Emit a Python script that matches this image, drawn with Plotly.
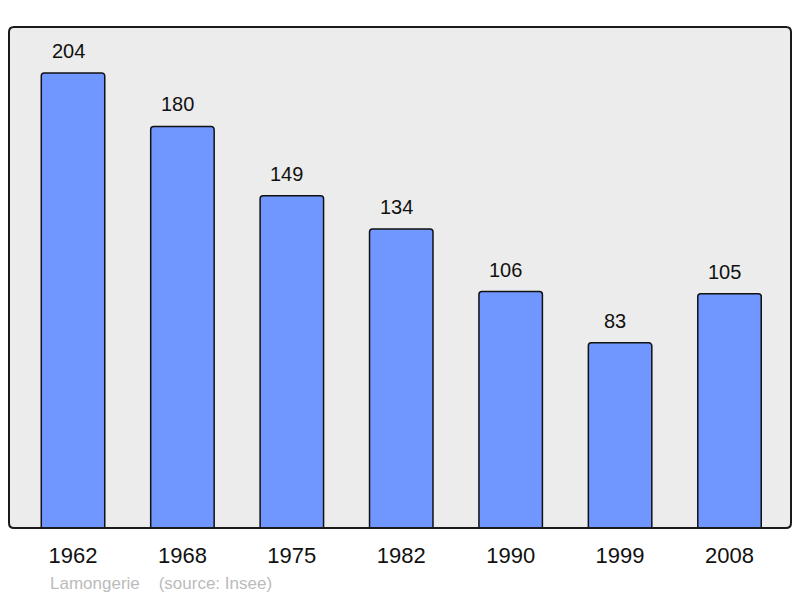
import plotly.graph_objects as go

years = ["1962", "1968", "1975", "1982", "1990", "1999", "2008"]
population = [204, 180, 149, 134, 106, 83, 105]
source_text = "Lamongerie\u00a0\u00a0\u00a0\u00a0(source: Insee)"

xs = list(range(len(years)))
FONT = "Liberation Sans, Arial, sans-serif"

fig = go.Figure()
fig.add_trace(go.Bar(
    x=xs, y=population, width=0.58,
    marker=dict(color="#7096ff", line=dict(color="#111111", width=1.5), cornerradius=3),
    hoverinfo="skip",
))

for x, v in zip(xs, population):
    fig.add_annotation(x=x, y=v, text=str(v), showarrow=False, yshift=22, xshift=-5,
                       yanchor="middle", font=dict(family=FONT, size=20, color="#111"))

fig.add_annotation(xref="paper", yref="paper", x=(48 - 9) / 782, y=-(583 - 528) / 501,
                   xanchor="left", yanchor="middle", text=source_text, showarrow=False,
                   font=dict(family=FONT, size=17, color="#bbbbbb"))

rx, ry = 5 / 782, 5 / 501
path = (f"M {rx},0 L {1-rx},0 Q 1,0 1,{ry} L 1,{1-ry} Q 1,1 {1-rx},1 "
        f"L {rx},1 Q 0,1 0,{1-ry} L 0,{ry} Q 0,0 {rx},0 Z")
fig.add_shape(type="path", xref="paper", yref="paper", path=path,
              line=dict(color="#1a1a1a", width=2), layer="above")

fig.update_layout(
    width=800, height=598,
    margin=dict(l=9, r=9, t=27, b=70),
    paper_bgcolor="white", plot_bgcolor="#ececec",
    showlegend=False,
    xaxis=dict(tickvals=xs, ticktext=years, range=[-0.585, 6.562], showgrid=False,
               zeroline=False, ticks="", ticklabelstandoff=12,
               tickfont=dict(family=FONT, size=22, color="#111")),
    yaxis=dict(range=[0, 224.6], visible=False, showgrid=False, zeroline=False),
)

fig.write_html("out.html", config={"displayModeBar": False},
               post_script="document.body.style.margin='0';document.body.style.overflow='hidden';")
